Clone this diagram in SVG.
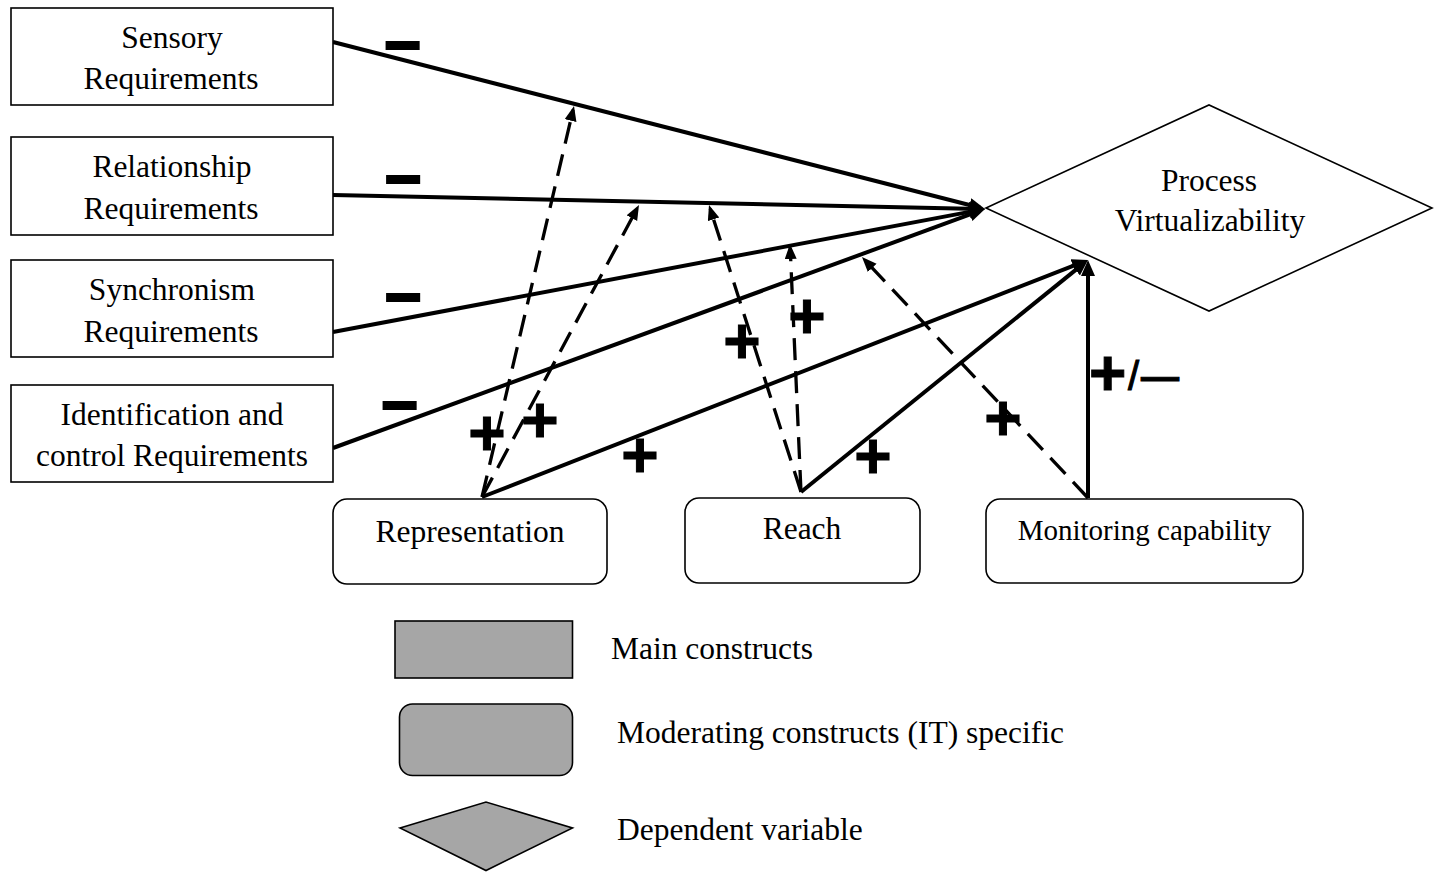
<svg xmlns="http://www.w3.org/2000/svg" width="1434" height="872" viewBox="0 0 1434 872">
  <style>
    .box { fill: #ffffff; stroke: #000000; stroke-width: 1.6; }
    .legend { fill: #a6a6a6; stroke: #000000; stroke-width: 1.6; }
    .label { font-family: "Liberation Serif", "Times New Roman", serif; font-size: 31.5px; fill: #000000; text-anchor: middle; }
    .legend-text { font-family: "Liberation Serif", "Times New Roman", serif; font-size: 31.5px; fill: #000000; }
    .solid { stroke: #000000; stroke-width: 4; fill: none; marker-end: url(#headSolid); }
    .dashed { stroke: #000000; stroke-width: 3.3; fill: none; stroke-dasharray: 22 11; marker-end: url(#headDash); }
    .sign { font-family: "Liberation Sans", Arial, sans-serif; font-weight: bold; font-size: 64px; fill: #000000; stroke: #000000; stroke-width: 1; text-anchor: middle; }
    .minus { stroke-width: 2; }
  </style>
  <defs>
    <marker id="headSolid" markerUnits="userSpaceOnUse" markerWidth="20" markerHeight="20" refX="11" refY="7" orient="auto">
      <path d="M0,0 L16,7 L0,14 z" fill="#000000"/>
    </marker>
    <marker id="headDash" markerUnits="userSpaceOnUse" markerWidth="20" markerHeight="20" refX="11" refY="6" orient="auto">
      <path d="M0,0 L15,6 L0,12 z" fill="#000000"/>
    </marker>
  </defs>

  <rect width="1434" height="872" fill="#ffffff"/>

  <!-- connectors -->
  <g id="connectors">
    <!-- requirements to process virtualizability -->
    <line class="solid" x1="333" y1="42" x2="980.2" y2="207.8"/>
    <line class="solid" x1="333" y1="195" x2="980" y2="208.9"/>
    <line class="solid" x1="333" y1="332" x2="980.1" y2="209.9"/>
    <line class="solid" x1="333" y1="448" x2="980.3" y2="210.7"/>
    <!-- IT constructs to process virtualizability -->
    <line class="solid" x1="482" y1="497" x2="1083.3" y2="261.8"/>
    <line class="solid" x1="801" y1="492" x2="1084.1" y2="263.1"/>
    <line class="solid" x1="1088" y1="498" x2="1088" y2="265"/>
    <!-- moderating effects -->
    <line class="dashed" x1="482" y1="497" x2="573.1" y2="109.9"/>
    <line class="dashed" x1="482" y1="497" x2="637.1" y2="208.5"/>
    <line class="dashed" x1="801" y1="492" x2="710.2" y2="208.8"/>
    <line class="dashed" x1="801" y1="492" x2="790.2" y2="248"/>
    <line class="dashed" x1="1088" y1="498" x2="864.7" y2="259.9"/>
  </g>

  <!-- signs on the paths -->
  <g id="signs">
    <text class="sign minus" x="402.5" y="67.4">−</text>
    <text class="sign minus" x="403" y="200.9">−</text>
    <text class="sign minus" x="403" y="319.4">−</text>
    <text class="sign minus" x="399.5" y="427.4">−</text>
    <text class="sign" x="487" y="455.4">+</text>
    <text class="sign" x="540" y="442.4">+</text>
    <text class="sign" x="640" y="477.4">+</text>
    <text class="sign" x="742" y="363.4">+</text>
    <text class="sign" x="807" y="338.4">+</text>
    <text class="sign" x="873" y="478.4">+</text>
    <text class="sign" x="1003" y="440.4">+</text>
    <text class="sign" style="text-anchor:start"><tspan x="1089" y="395.4">+</tspan><tspan x="1128" y="390" style="font-size:40px;font-weight:normal">/</tspan><tspan x="1141" y="389.5" style="font-size:38px">—</tspan></text>
  </g>

  <!-- requirement constructs -->
  <g id="sensory">
    <rect class="box" x="11" y="8" width="322" height="97"/>
    <text class="label" x="172" y="48">Sensory</text>
    <text class="label" x="171" y="89">Requirements</text>
  </g>
  <g id="relationship">
    <rect class="box" x="11" y="137" width="322" height="98"/>
    <text class="label" x="172" y="177">Relationship</text>
    <text class="label" x="171" y="219">Requirements</text>
  </g>
  <g id="synchronism">
    <rect class="box" x="11" y="260" width="322" height="97"/>
    <text class="label" x="172" y="300">Synchronism</text>
    <text class="label" x="171" y="342">Requirements</text>
  </g>
  <g id="identification">
    <rect class="box" x="11" y="385" width="322" height="97"/>
    <text class="label" x="172" y="425">Identification and</text>
    <text class="label" x="172" y="466">control Requirements</text>
  </g>

  <!-- dependent variable -->
  <g id="process-virtualizability">
    <polygon class="box" points="986,208 1209,105 1432,208 1209,311"/>
    <text class="label" x="1209" y="191">Process</text>
    <text class="label" x="1210" y="231">Virtualizability</text>
  </g>

  <!-- IT specific moderating constructs -->
  <g id="representation">
    <rect class="box" x="333" y="499" width="274" height="85" rx="14"/>
    <text class="label" x="470" y="542">Representation</text>
  </g>
  <g id="reach">
    <rect class="box" x="685" y="498" width="235" height="85" rx="14"/>
    <text class="label" x="802" y="539">Reach</text>
  </g>
  <g id="monitoring">
    <rect class="box" x="986" y="499" width="317" height="84" rx="14"/>
    <text class="label" x="1144.5" y="540" style="font-size:29px">Monitoring capability</text>
  </g>

  <!-- key -->
  <g id="legend-main">
    <rect class="legend" x="395" y="621" width="177.5" height="57"/>
    <text class="legend-text" x="611" y="659">Main constructs</text>
  </g>
  <g id="legend-moderating">
    <rect class="legend" x="399.5" y="704" width="173" height="71.5" rx="13"/>
    <text class="legend-text" x="617" y="743">Moderating constructs (IT) specific</text>
  </g>
  <g id="legend-dependent">
    <polygon class="legend" points="400,828 486,802 572.5,828 486,870.5"/>
    <text class="legend-text" x="617" y="840">Dependent variable</text>
  </g>
</svg>
